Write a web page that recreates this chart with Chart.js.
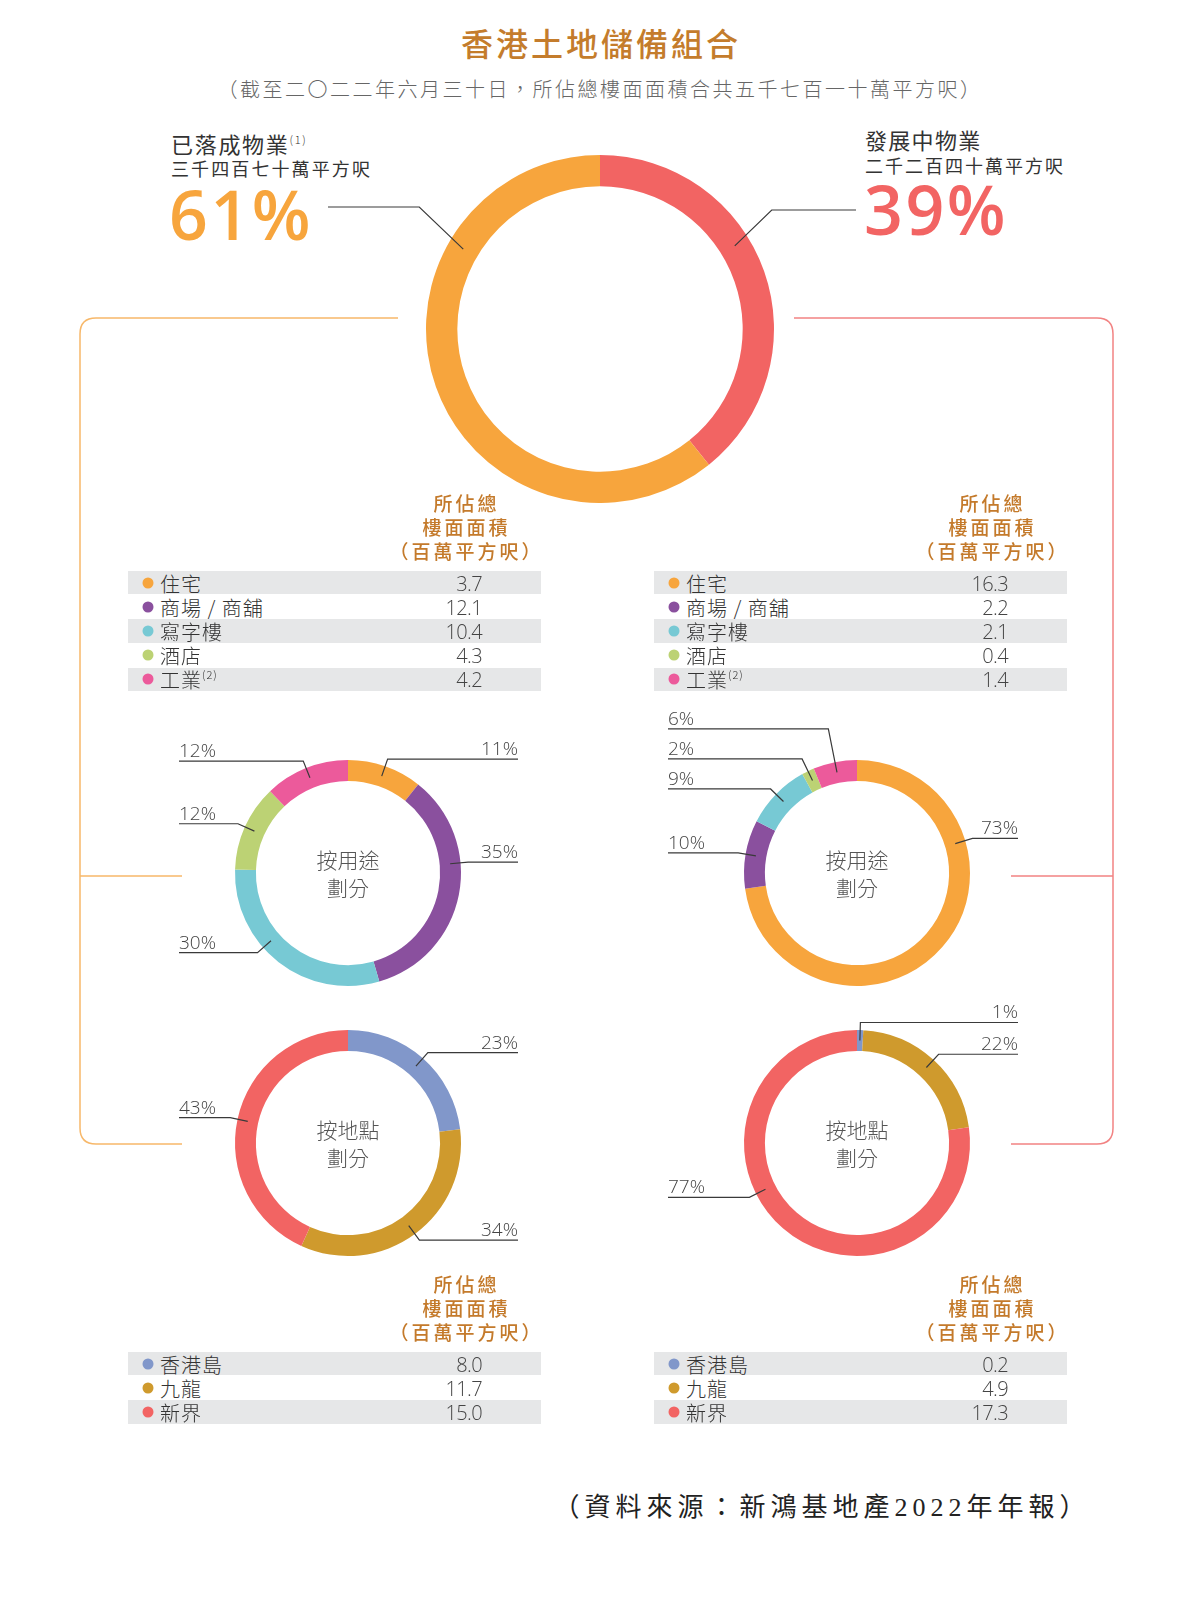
<!DOCTYPE html>
<html lang="zh-Hant">
<head>
<meta charset="utf-8">
<script src="https://cdn.jsdelivr.net/npm/chart.js@4.4.0/dist/chart.umd.min.js"></script>
<style>
  body { margin: 0; background: #fff; }
  #page { position: relative; width: 1200px; height: 1600px; overflow: hidden;
          font-family: "Noto Sans CJK TC", "Noto Sans", sans-serif; color: #444; }
  .t { position: absolute; white-space: nowrap; }
  .c { transform: translate(-50%, -50%); }
  .l { transform: translateY(-50%); }
  .r { transform: translate(-100%, -50%); }
  .box { position: absolute; }
  .band { position: absolute; background: #e6e7e8; }
  .dot { position: absolute; width: 11px; height: 11px; border-radius: 50%; transform: translate(-50%, -50%); }
  sup { font-size: 11px; vertical-align: 9px; line-height: 0; font-weight: 300; }
</style>
</head>
<body>
<div id="page">
  <svg id="brackets" width="1200" height="1600" style="position:absolute;left:0;top:0">
    <path d="M398,318 H96 Q80,318 80,334 V1128 Q80,1144 96,1144 H182 M80,876 H182" fill="none" stroke="#f7b86a" stroke-width="1.5"/>
    <path d="M794,318 H1097 Q1113,318 1113,334 V1128 Q1113,1144 1097,1144 H1011 M1011,876 H1113" fill="none" stroke="#f28383" stroke-width="1.5"/>
  </svg>

  <div class="t c" style="left:601px;top:42px;font-size:32px;line-height:32px;letter-spacing:3px;color:#c47c2c;font-weight:500">香港土地儲備組合</div>
  <div class="t c" style="left:600px;top:89px;font-size:20px;line-height:20px;letter-spacing:2.5px;color:#666;font-weight:300">（截至二〇二二年六月三十日，所佔總樓面面積合共五千七百一十萬平方呎）</div>

  <div class="t l" style="left:171px;top:143px;font-size:22px;line-height:22px;letter-spacing:1.7px;color:#333">已落成物業<sup>(1)</sup></div>
  <div class="t l" style="left:171px;top:168px;font-size:18px;line-height:18px;letter-spacing:2.1px;color:#333">三千四百七十萬平方呎</div>
  <div class="t l" style="left:169px;top:214px;font-size:68px;line-height:68px;letter-spacing:2.5px;font-family:'Open Sans','Noto Sans',sans-serif;font-weight:600;color:#f7a53d">61%</div>

  <div class="t l" style="left:865px;top:139px;font-size:22px;line-height:22px;letter-spacing:1.3px;color:#333">發展中物業</div>
  <div class="t l" style="left:865px;top:165px;font-size:18px;line-height:18px;letter-spacing:2px;color:#333">二千二百四十萬平方呎</div>
  <div class="t l" style="left:864px;top:209px;font-size:68px;line-height:68px;letter-spacing:2.5px;font-family:'Open Sans','Noto Sans',sans-serif;font-weight:600;color:#f26463">39%</div>

  <div class="box" style="left:0;top:155px;width:1200px;height:348px"><canvas id="mainChart"></canvas></div>
  <div class="box" style="left:68px;top:690px;width:560px;height:366px"><canvas id="useA"></canvas></div>
  <div class="box" style="left:577px;top:690px;width:560px;height:366px"><canvas id="useB"></canvas></div>
  <div class="box" style="left:68px;top:960px;width:560px;height:366px"><canvas id="locA"></canvas></div>
  <div class="box" style="left:577px;top:960px;width:560px;height:366px"><canvas id="locB"></canvas></div>

  <div class="t c" style="left:822px;top:1508px;font-size:26px;line-height:26px;letter-spacing:5px;color:#222;font-family:'Liberation Serif','DejaVu Serif','Noto Sans CJK TC',serif">（資料來源：新鴻基地產2022年年報）</div>
</div>

<script>
// 總樓面面積（百萬平方呎）
const mainLabels = ['發展中物業', '已落成物業'];
const mainValues = [22.4, 34.7];
const mainColors = ['#f26463', '#f7a53d'];

const useLabels = ['住宅', '商場 / 商舖', '寫字樓', '酒店', '工業'];
const useNotes = ['', '', '', '', '(2)'];
const useColors = ['#f7a53d', '#8a509e', '#77c9d4', '#bcd274', '#ec5a9b'];
const useCompleted = [3.7, 12.1, 10.4, 4.3, 4.2];
const useDeveloping = [16.3, 2.2, 2.1, 0.4, 1.4];

const locLabels = ['香港島', '九龍', '新界'];
const locNotes = ['', '', ''];
const locColors = ['#8197ca', '#cf9a2d', '#f26463'];
const locCompleted = [8.0, 11.7, 15.0];
const locDeveloping = [0.2, 4.9, 17.3];

const headerLines = ['所佔總', '樓面面積', '（百萬平方呎）'];

const page = document.getElementById('page');

function put(html, x, y, cls, style) {
  const d = document.createElement('div');
  d.className = 't ' + cls;
  d.style.cssText = 'left:' + x + 'px;top:' + y + 'px;' + style;
  d.innerHTML = html;
  page.appendChild(d);
  return d;
}

// tableau : bandes grises, pastilles, libellés, valeurs
function buildTable(left, top, labels, notes, values, colors) {
  const pitch = 24.2;
  headerLines.forEach((txt, k) => {
    put(txt, left + 337, top - 69 + k * 24, 'c',
      'font-size:19px;line-height:19px;letter-spacing:3px;color:#c47a2b;font-weight:500;padding-left:3px');
  });
  labels.forEach((lab, i) => {
    const rowTop = top + i * pitch;
    const mid = rowTop + 11.6;
    if (i % 2 === 0) {
      const b = document.createElement('div');
      b.className = 'band';
      b.style.cssText = 'left:' + left + 'px;top:' + rowTop + 'px;width:413px;height:23.2px';
      page.appendChild(b);
    }
    const dot = document.createElement('div');
    dot.className = 'dot';
    dot.style.cssText = 'left:' + (left + 20) + 'px;top:' + mid + 'px;background:' + colors[i];
    page.appendChild(dot);
    put(lab + (notes[i] ? '<sup>' + notes[i] + '</sup>' : ''), left + 32, mid + 1, 'l',
      'font-size:20px;line-height:20px;letter-spacing:1px;color:#333;font-weight:300');
    put(values[i].toFixed(1), left + 354, mid + 1, 'r',
      "font-size:20px;line-height:20px;letter-spacing:-0.6px;color:#444;font-weight:300;font-family:'Open Sans','Noto Sans',sans-serif");
  });
}

buildTable(128, 571, useLabels, useNotes, useCompleted, useColors);
buildTable(654, 571, useLabels, useNotes, useDeveloping, useColors);
buildTable(128, 1352, locLabels, locNotes, locCompleted, locColors);
buildTable(654, 1352, locLabels, locNotes, locDeveloping, locColors);

// lignes de rappel + pourcentages pour les petits anneaux
const leaderPlugin = {
  id: 'leaders',
  afterDatasetsDraw(chart, args, o) {
    const meta = chart.getDatasetMeta(0);
    const vals = chart.data.datasets[0].data;
    const total = vals.reduce((a, b) => a + b, 0);
    const ctx = chart.ctx;
    const items = [];
    let cx = 0, cy = 0;
    meta.data.forEach((arc, i) => {
      const p = arc.getProps(['x', 'y', 'startAngle', 'endAngle', 'innerRadius', 'outerRadius'], true);
      cx = p.x; cy = p.y;
      const f = (o.anchorPos && o.anchorPos[i] != null) ? o.anchorPos[i] : 0.5;
      const a = p.startAngle + (p.endAngle - p.startAngle) * f;
      const rm = (p.innerRadius + p.outerRadius) / 2;
      const dx = Math.cos(a), dy = Math.sin(a);
      const px = p.x + dx * rm, py = p.y + dy * rm;
      items.push({ px, py, dx, dy, ex: px + dx * o.elbow, ey: py + dy * o.elbow,
        side: dx >= 0 ? 1 : -1, text: Math.round(vals[i] / total * 100) + '%' });
    });
    // éviter les chevauchements : on remonte les étiquettes trop proches
    [1, -1].forEach(s => {
      const list = items.filter(it => it.side === s).sort((a, b) => a.ey - b.ey);
      for (let k = list.length - 2; k >= 0; k--) {
        const lim = list[k + 1].ey - o.gap;
        if (list[k].ey > lim) {
          const t = (lim - list[k].py) / list[k].dy;
          list[k].ey = lim;
          if (t > 0) list[k].ex = list[k].px + list[k].dx * t;
        }
      }
    });
    ctx.save();
    ctx.strokeStyle = '#3a3a3a';
    ctx.lineWidth = 1.2;
    ctx.fillStyle = '#444';
    ctx.font = '300 19px "Open Sans", "Noto Sans", sans-serif';
    ctx.textBaseline = 'alphabetic';
    items.forEach(it => {
      const endX = cx + (it.side > 0 ? o.right : o.left);
      ctx.beginPath();
      ctx.moveTo(it.px, it.py);
      ctx.lineTo(it.ex, it.ey);
      ctx.lineTo(endX, it.ey);
      ctx.stroke();
      ctx.textAlign = it.side > 0 ? 'right' : 'left';
      ctx.fillText(it.text, endX, it.ey - 4);
    });
    ctx.fillStyle = '#555';
    ctx.font = '300 21px "Noto Sans CJK TC", sans-serif';
    ctx.textAlign = 'center';
    ctx.textBaseline = 'middle';
    ctx.fillText(o.center[0], cx, cy - 13);
    ctx.fillText(o.center[1], cx, cy + 15);
    ctx.restore();
  }
};

// lignes de rappel de l'anneau principal (textes en HTML)
const mainLeaders = {
  id: 'mainLeaders',
  afterDatasetsDraw(chart, args, o) {
    const meta = chart.getDatasetMeta(0);
    const ctx = chart.ctx;
    ctx.save();
    ctx.strokeStyle = '#3a3a3a';
    ctx.lineWidth = 1.2;
    meta.data.forEach((arc, i) => {
      const p = arc.getProps(['x', 'y', 'startAngle', 'endAngle', 'innerRadius', 'outerRadius'], true);
      const s = o.segs[i];
      const a = p.startAngle + (p.endAngle - p.startAngle) * s.pos;
      const rm = (p.innerRadius + p.outerRadius) / 2;
      const px = p.x + Math.cos(a) * rm, py = p.y + Math.sin(a) * rm;
      ctx.beginPath();
      ctx.moveTo(px, py);
      ctx.lineTo(px + s.dx, p.y + s.dy);
      ctx.lineTo(p.x + s.end, p.y + s.dy);
      ctx.stroke();
    });
    ctx.restore();
  }
};

const baseOptions = {
  responsive: true,
  maintainAspectRatio: false,
  animation: false,
  events: [],
  plugins: { legend: { display: false }, tooltip: { enabled: false } }
};

new Chart(document.getElementById('mainChart'), {
  type: 'doughnut',
  data: { labels: mainLabels, datasets: [{ data: mainValues, backgroundColor: mainColors, borderWidth: 0 }] },
  options: Object.assign({}, baseOptions, {
    cutout: '82%',
    plugins: Object.assign({}, baseOptions.plugins, {
      mainLeaders: { segs: [ { pos: 0.413, dx: 37, dy: -119, end: 256 }, { pos: 0.727, dx: -44, dy: -122, end: -272 } ] }
    })
  }),
  plugins: [mainLeaders]
});

function smallRing(id, labels, values, colors, center, cols, anchorPos) {
  new Chart(document.getElementById(id), {
    type: 'doughnut',
    data: { labels: labels, datasets: [{ data: values, backgroundColor: colors, borderWidth: 0 }] },
    options: Object.assign({}, baseOptions, {
      cutout: '81.5%',
      layout: { padding: { top: 70, bottom: 70 } },
      plugins: Object.assign({}, baseOptions.plugins, {
        leaders: { elbow: 18, gap: 30, left: cols[0], right: cols[1], center: center, anchorPos: anchorPos }
      })
    }),
    plugins: [leaderPlugin]
  });
}

smallRing('useA', useLabels, useCompleted, useColors, ['按用途', '劃分'], [-169, 170], [null, 0.37, 0.6]);
smallRing('useB', useLabels, useDeveloping, useColors, ['按用途', '劃分'], [-189, 161], [0.28]);
smallRing('locA', locLabels, locCompleted, locColors, ['按地點', '劃分'], [-169, 170], []);
smallRing('locB', locLabels, locDeveloping, locColors, ['按地點', '劃分'], [-189, 161], [null, null, 0.58]);
</script>
</body>
</html>
